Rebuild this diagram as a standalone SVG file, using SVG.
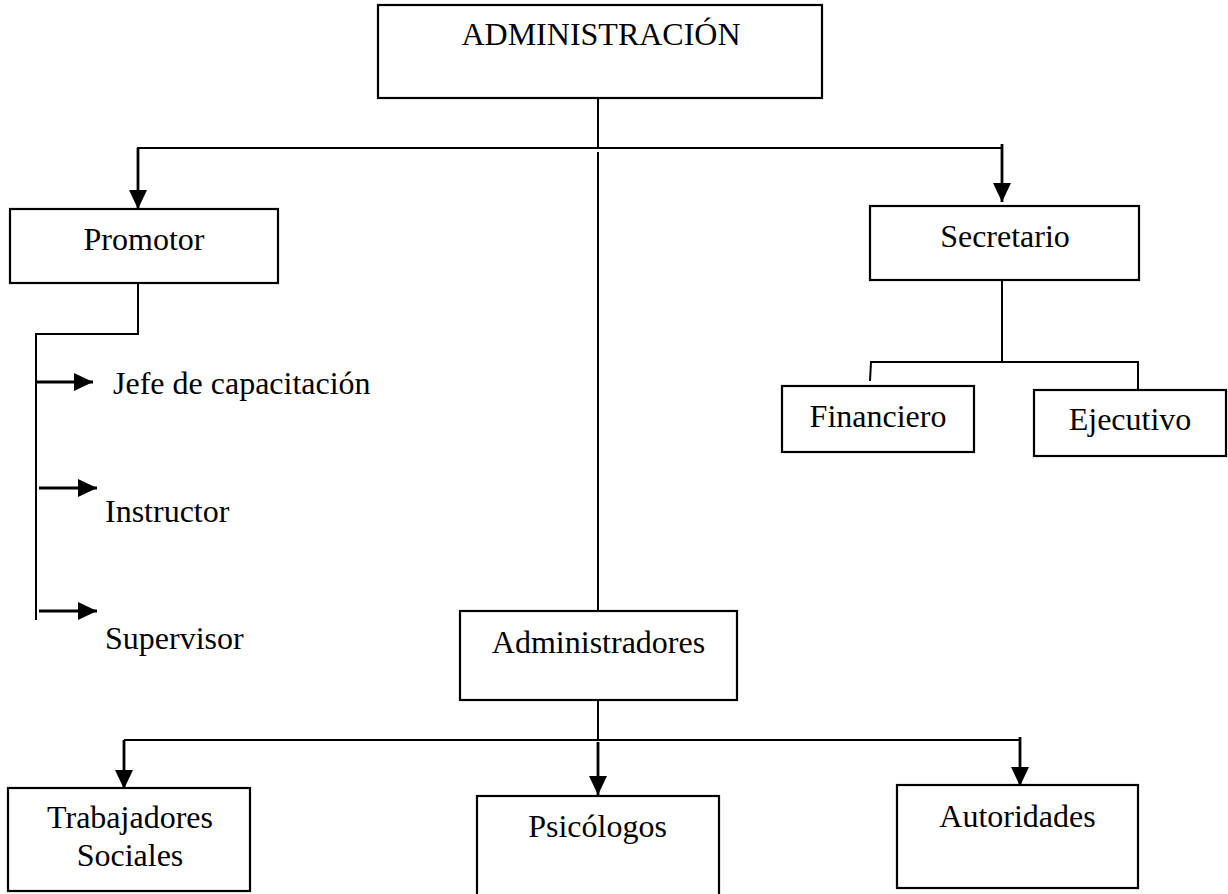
<svg xmlns="http://www.w3.org/2000/svg" width="1228" height="894" viewBox="0 0 1228 894">
<style>
.box{fill:#fff;stroke:#000;stroke-width:2.2}
.ln{fill:none;stroke:#000;stroke-width:2}
.ar{fill:none;stroke:#000;stroke-width:2.8;marker-end:url(#ah)}
text{font-family:"Liberation Serif","Times New Roman",serif;font-size:32px;fill:#000}
.c{text-anchor:middle}
</style>
<defs>
<marker id="ah" viewBox="0 0 10 10" refX="10" refY="5" markerWidth="19" markerHeight="18" markerUnits="userSpaceOnUse" orient="auto" preserveAspectRatio="none">
<path d="M0,0 L10,5 L0,10 z" fill="#000"/>
</marker>
</defs>
<rect width="1228" height="894" fill="#fff"/>
<g id="connectors">
<path class="ln" d="M598,98 V148"/>
<path class="ln" d="M137,148 H1002"/>
<path class="ar" d="M138,148 V209"/>
<path class="ar" d="M1002,144 V202"/>
<path class="ln" d="M598,152 V624"/>
<path class="ln" d="M138,283 V334 H36 V620"/>
<path class="ar" d="M36,382 H93"/>
<path class="ar" d="M39,488 H97"/>
<path class="ar" d="M39,611 H97"/>
<path class="ln" d="M1002,280 V362"/>
<path class="ln" d="M870,381 L871,362 H1138 V389"/>
<path class="ln" d="M598,700 V740"/>
<path class="ln" d="M124,740 H1020"/>
<path class="ar" d="M124,740 V789"/>
<path class="ar" d="M598,742 V795"/>
<path class="ar" d="M1020,737 V786"/>
</g>
<g id="administracion">
<rect class="box" x="378" y="5" width="444" height="93"/>
<text class="c" x="601" y="45">ADMINISTRACIÓN</text>
</g>
<g id="promotor">
<rect class="box" x="10" y="209" width="268" height="74"/>
<text class="c" x="144" y="250">Promotor</text>
</g>
<g id="jefe">
<text x="113" y="394">Jefe de capacitación</text>
</g>
<g id="instructor">
<text x="105" y="522">Instructor</text>
</g>
<g id="supervisor">
<text x="105" y="649">Supervisor</text>
</g>
<g id="secretario">
<rect class="box" x="870" y="206" width="269" height="74"/>
<text class="c" x="1005" y="247">Secretario</text>
</g>
<g id="financiero">
<rect class="box" x="782" y="386" width="192" height="66"/>
<text class="c" x="878" y="427">Financiero</text>
</g>
<g id="ejecutivo">
<rect class="box" x="1034" y="390" width="192" height="66"/>
<text class="c" x="1130" y="430">Ejecutivo</text>
</g>
<g id="administradores">
<rect class="box" x="460" y="611" width="277" height="89"/>
<text class="c" x="598.5" y="653">Administradores</text>
</g>
<g id="trabajadores">
<rect class="box" x="8" y="788" width="242" height="103"/>
<text class="c" x="130" y="828">Trabajadores</text>
<text class="c" x="130" y="866">Sociales</text>
</g>
<g id="psicologos">
<rect class="box" x="477" y="796" width="242" height="110"/>
<text class="c" x="597.5" y="837">Psicólogos</text>
</g>
<g id="autoridades">
<rect class="box" x="897" y="785" width="241" height="103"/>
<text class="c" x="1017.5" y="827">Autoridades</text>
</g>
</svg>
